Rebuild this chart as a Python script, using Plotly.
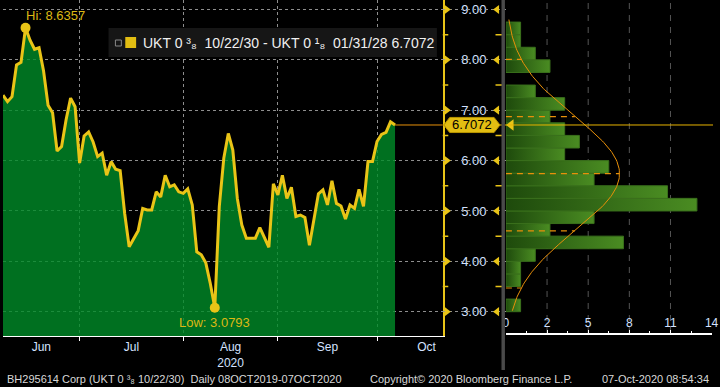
import numpy as np
import pandas as pd
import plotly.graph_objects as go

# ---------------- data ----------------
dates = pd.bdate_range("2020-06-08", "2020-10-07")
spread = [7.30, 7.17, 7.27, 7.90, 7.95, 8.6357, 8.39, 8.21, 8.24, 7.78,
          7.10, 6.95, 6.19, 6.28, 6.81, 7.24, 7.07, 5.95, 6.49, 6.57,
          6.37, 6.08, 6.15, 5.71, 5.98, 5.83, 5.80, 4.95, 4.29, 4.46,
          4.61, 5.05, 5.02, 5.02, 5.38, 5.28, 5.71, 5.48, 5.52, 5.38,
          5.35, 5.44, 5.12, 4.19, 4.13, 3.97, 3.56, 3.0793, 5.09, 6.05,
          6.54, 6.21, 5.25, 4.72, 4.46, 4.46, 4.46, 4.67, 4.46, 4.28,
          5.54, 5.32, 5.71, 5.25, 5.47, 4.89, 4.92, 4.87, 4.32, 4.85,
          5.34, 5.42, 5.12, 5.60, 5.15, 5.10, 4.84, 5.12, 5.05, 5.43,
          5.09, 5.98, 5.98, 6.38, 6.52, 6.56, 6.77, 6.7072]

month_labels = ["Jun", "Jul", "Aug<br>2020", "Sep", "Oct"]
y_ticks = [3, 4, 5, 6, 7, 8, 9]

hist_bins = [3.125, 3.375, 3.625, 3.875, 4.125, 4.375, 4.625, 4.875,
             5.125, 5.375, 5.625, 5.875, 6.125, 6.375, 6.625, 6.875,
             7.125, 7.375, 7.625, 7.875, 8.125, 8.375, 8.625]
hist_counts = [1, 0, 1, 1, 2, 8, 3, 6, 13, 11, 6, 7, 4, 5, 4, 3, 4, 2, 0, 3, 2, 1, 1]
hist_tickvals = [0, 2.8, 5.6, 8.4, 11.2, 14]
hist_ticktext = ["0", "2", "5", "8", "11", "14"]
hist_mean = 5.74
hist_std = 1.135
bin_width = 0.25

legend_text = "UKT 0 \u00b3\u2088  10/22/30 - UKT 0 \u00b9\u2088  01/31/28 6.7072"
footer_left = "BH295614 Corp (UKT 0 \u00b3\u2088 10/22/30)  Daily 08OCT2019-07OCT2020"
footer_mid = "Copyright\u00a9 2020 Bloomberg Finance L.P."
footer_right = "07-Oct-2020 08:54:34"

# ---------------- styling ----------------
YEL = "#e9c417"
ORANGE = "#e8900a"
LBL = "#d4e2ff"
GRID = "rgba(150,150,150,0.95)"
FONT = "Liberation Sans, Arial, sans-serif"

W, H = 720, 387
MAIN_R = 446 / W
MAIN_B = (H - 336) / H
HIST_L, HIST_R = 510 / W, 718.6 / W
HIST_B = (H - 333) / H
Y_RANGE = [2.518, 9.1886]
Y2_RANGE = [2.577, 9.1886]
X_MAX = 97.6

idx = np.arange(len(dates))
last_i, last_v = idx[-1], spread[-1]
hi_i = int(np.argmax(spread)); lo_i = int(np.argmin(spread))

month_starts = [i for i in range(1, len(dates)) if dates[i].month != dates[i - 1].month]
full = pd.bdate_range("2020-06-01", "2020-10-30")
offset = full.get_loc(dates[0])
label_pos = []
for m in [6, 7, 8, 9, 10]:
    sel = np.where(full.month == m)[0] - offset
    a = max(sel[0], 0); b = sel[-1] + 1
    label_pos.append((a + b) / 2)

fig = go.Figure()

# main area + line
fig.add_trace(go.Scatter(x=idx, y=spread, mode="lines",
                         line=dict(color=YEL, width=3), fill="tozeroy",
                         fillcolor="rgba(0,140,40,0.8)", hoverinfo="skip"))
fig.add_trace(go.Scatter(x=[hi_i, lo_i], y=[spread[hi_i], spread[lo_i]], mode="markers",
                         marker=dict(color=YEL, size=10), hoverinfo="skip"))

# histogram bars (gradient-filled rectangles built from bins and counts)
for c, yc in zip(hist_counts, hist_bins):
    if c <= 0:
        continue
    lo, hi = yc - bin_width / 2, yc + bin_width / 2
    fig.add_trace(go.Scatter(x=[0, c, c, 0, 0], y=[lo, lo, hi, hi, lo], mode="lines",
                             fill="toself",
                             fillgradient=dict(type="horizontal",
                                               colorscale=[[0, "rgb(30,74,12)"], [1, "rgb(74,140,34)"]]),
                             line=dict(color="rgb(58,112,28)", width=1),
                             xaxis="x2", yaxis="y2", hoverinfo="skip"))
n_obs = sum(hist_counts)
peak = n_obs * bin_width / (hist_std * np.sqrt(2 * np.pi))
def curve(v):
    return peak * np.exp(-0.5 * ((np.asarray(v) - hist_mean) / hist_std) ** 2)
yy = np.linspace(3.02, 8.8, 200)
fig.add_trace(go.Scatter(x=curve(yy), y=yy, mode="lines", line=dict(color=ORANGE, width=1),
                         xaxis="x2", yaxis="y2", hoverinfo="skip"))
for k in [-2, -1, 0, 1, 2]:
    lv = hist_mean + k * hist_std
    fig.add_trace(go.Scatter(x=[0, float(curve(lv))], y=[lv, lv], mode="lines",
                             line=dict(color=ORANGE, width=1.2, dash="6px,5px"),
                             xaxis="x2", yaxis="y2", hoverinfo="skip"))
fig.add_trace(go.Scatter(x=[0.35], y=[last_v], mode="markers",
                         marker=dict(symbol="triangle-left", color=YEL, size=10),
                         xaxis="x2", yaxis="y2", hoverinfo="skip"))

# y-axis tick decorations (panel between main and histogram)
minor_y = [v + 0.5 for v in y_ticks[:-1]]
fig.add_trace(go.Scatter(x=[4] * len(y_ticks), y=y_ticks, mode="markers",
                         marker=dict(symbol="triangle-right", color=YEL, size=8),
                         xaxis="x3", yaxis="y", hoverinfo="skip"))
fig.add_trace(go.Scatter(x=[55] * len(y_ticks), y=y_ticks, mode="markers",
                         marker=dict(symbol="triangle-left", color=YEL, size=8),
                         xaxis="x3", yaxis="y", hoverinfo="skip"))
fig.add_trace(go.Scatter(x=[2] * len(minor_y) + [57] * len(minor_y), y=minor_y * 2, mode="markers",
                         marker=dict(symbol="line-ew", size=5, line=dict(color=YEL, width=1.5)),
                         xaxis="x3", yaxis="y", hoverinfo="skip"))

shapes = []
# histogram grid
for v in hist_tickvals[1:-1]:
    shapes.append(dict(type="line", xref="x2", yref="y2 domain", x0=v, x1=v, y0=0, y1=1,
                       line=dict(color="#555555", width=1, dash="6px,6px"), layer="below"))
# current value line
shapes.append(dict(type="line", xref="x", yref="y", x0=last_i, x1=X_MAX, y0=last_v, y1=last_v,
                   line=dict(color=ORANGE, width=1)))
shapes.append(dict(type="line", xref="paper", yref="y", x0=MAIN_R, x1=1, y0=last_v, y1=last_v,
                   line=dict(color="#e8b400", width=1)))
# divider
shapes.append(dict(type="rect", xref="paper", yref="paper", x0=505.5 / W, x1=509 / W,
                   y0=(H - 370) / H, y1=1, fillcolor="#4a4a4a", line=dict(width=0)))
# value tag
hh = 0.15
tag = (f"M 1,{last_v} L 7,{last_v + hh} L 52,{last_v + hh} L 58,{last_v} "
       f"L 52,{last_v - hh} L 7,{last_v - hh} Z")
shapes.append(dict(type="path", xref="x3", yref="y", path=tag, fillcolor="#e2bd12",
                   line=dict(color="#b89400", width=1)))
# legend box
shapes.append(dict(type="rect", xref="paper", yref="paper", x0=107 / W, x1=440 / W,
                   y0=(H - 57) / H, y1=(H - 28) / H, fillcolor="#161616", line=dict(width=0)))
shapes.append(dict(type="rect", xref="paper", yref="paper", x0=124 / W, x1=135 / W,
                   y0=(H - 48) / H, y1=(H - 37) / H, fillcolor="#e2bd12", line=dict(width=0)))
shapes.append(dict(type="rect", xref="paper", yref="paper", x0=114 / W, x1=120 / W,
                   y0=(H - 46) / H, y1=(H - 40) / H, fillcolor="rgba(0,0,0,0)",
                   line=dict(color="#888888", width=1)))

annotations = [
    dict(x=hi_i, y=spread[hi_i], xref="x", yref="y", text=f"Hi: {spread[hi_i]:.4f}",
         xanchor="left", yanchor="bottom", yshift=3, xshift=-2, showarrow=False,
         font=dict(color="#dcb814", size=13)),
    dict(x=lo_i, y=spread[lo_i], xref="x", yref="y", text=f"Low: {spread[lo_i]:.4f}",
         xanchor="center", yanchor="top", yshift=-5, showarrow=False,
         font=dict(color="#dcb814", size=13)),
    dict(x=29.5, y=last_v, xref="x3", yref="y", text=f"{last_v:.4f}", showarrow=False,
         font=dict(color="black", size=13)),
    dict(x=140 / W, y=(H - 43) / H, xref="paper", yref="paper", text=legend_text,
         xanchor="left", yanchor="middle", showarrow=False, font=dict(color="#f0f0f0", size=14)),
    dict(x=2 / W, y=(H - 379) / H, xref="paper", yref="paper", text=footer_left,
         xanchor="left", yanchor="middle", showarrow=False, font=dict(color="#d8d8d8", size=11)),
    dict(x=370 / W, y=(H - 379) / H, xref="paper", yref="paper", text=footer_mid,
         xanchor="left", yanchor="middle", showarrow=False, font=dict(color="#d8d8d8", size=11)),
    dict(x=718 / W, y=(H - 379) / H, xref="paper", yref="paper", text=footer_right,
         xanchor="right", yanchor="middle", showarrow=False, font=dict(color="#d8d8d8", size=11)),
]

fig.update_layout(
    width=W, height=H, margin=dict(l=0, r=0, t=0, b=0),
    paper_bgcolor="black", plot_bgcolor="black", showlegend=False,
    font=dict(family=FONT, color=LBL, size=12),
    shapes=shapes, annotations=annotations,
    xaxis=dict(domain=[0, MAIN_R], range=[0, X_MAX], anchor="y",
               tickvals=label_pos, ticktext=month_labels, ticks="", showgrid=False,
               showline=True, linecolor="white", linewidth=1, zeroline=False,
               tickfont=dict(color=LBL, size=12),
               minor=dict(tickvals=month_starts, ticks="outside", ticklen=4, tickcolor="white",
                          showgrid=True, gridcolor=GRID, griddash="dot", gridwidth=1)),
    yaxis=dict(domain=[MAIN_B, 1], range=Y_RANGE, anchor="x", side="right",
               tickvals=y_ticks, tickformat=".2f", ticks="", showline=True,
               linecolor=YEL, linewidth=1.5, showgrid=True, gridcolor=GRID, griddash="dot",
               gridwidth=1, zeroline=False, tickfont=dict(color=LBL, size=13),
               ticklabelstandoff=14),
    xaxis2=dict(domain=[HIST_L, HIST_R], range=[0, 14], anchor="y2",
                tickvals=hist_tickvals, ticktext=hist_ticktext, ticks="inside", ticklen=3,
                tickcolor="white", ticklabelposition="inside", ticklabeloverflow="allow",
                showline=True, linecolor="white", linewidth=1.5, showgrid=False, zeroline=False,
                tickfont=dict(color=LBL, size=12),
                minor=dict(tick0=0, dtick=1.4, ticks="inside", ticklen=2, tickcolor="white")),
    yaxis2=dict(domain=[HIST_B, 1], range=Y2_RANGE, anchor="x2", visible=False),
    xaxis3=dict(domain=[MAIN_R, HIST_L], range=[0, 64], anchor="y", visible=False),
)

fig.write_html("out.html", config={"displayModeBar": False},
               post_script="document.body.style.margin='0';")
